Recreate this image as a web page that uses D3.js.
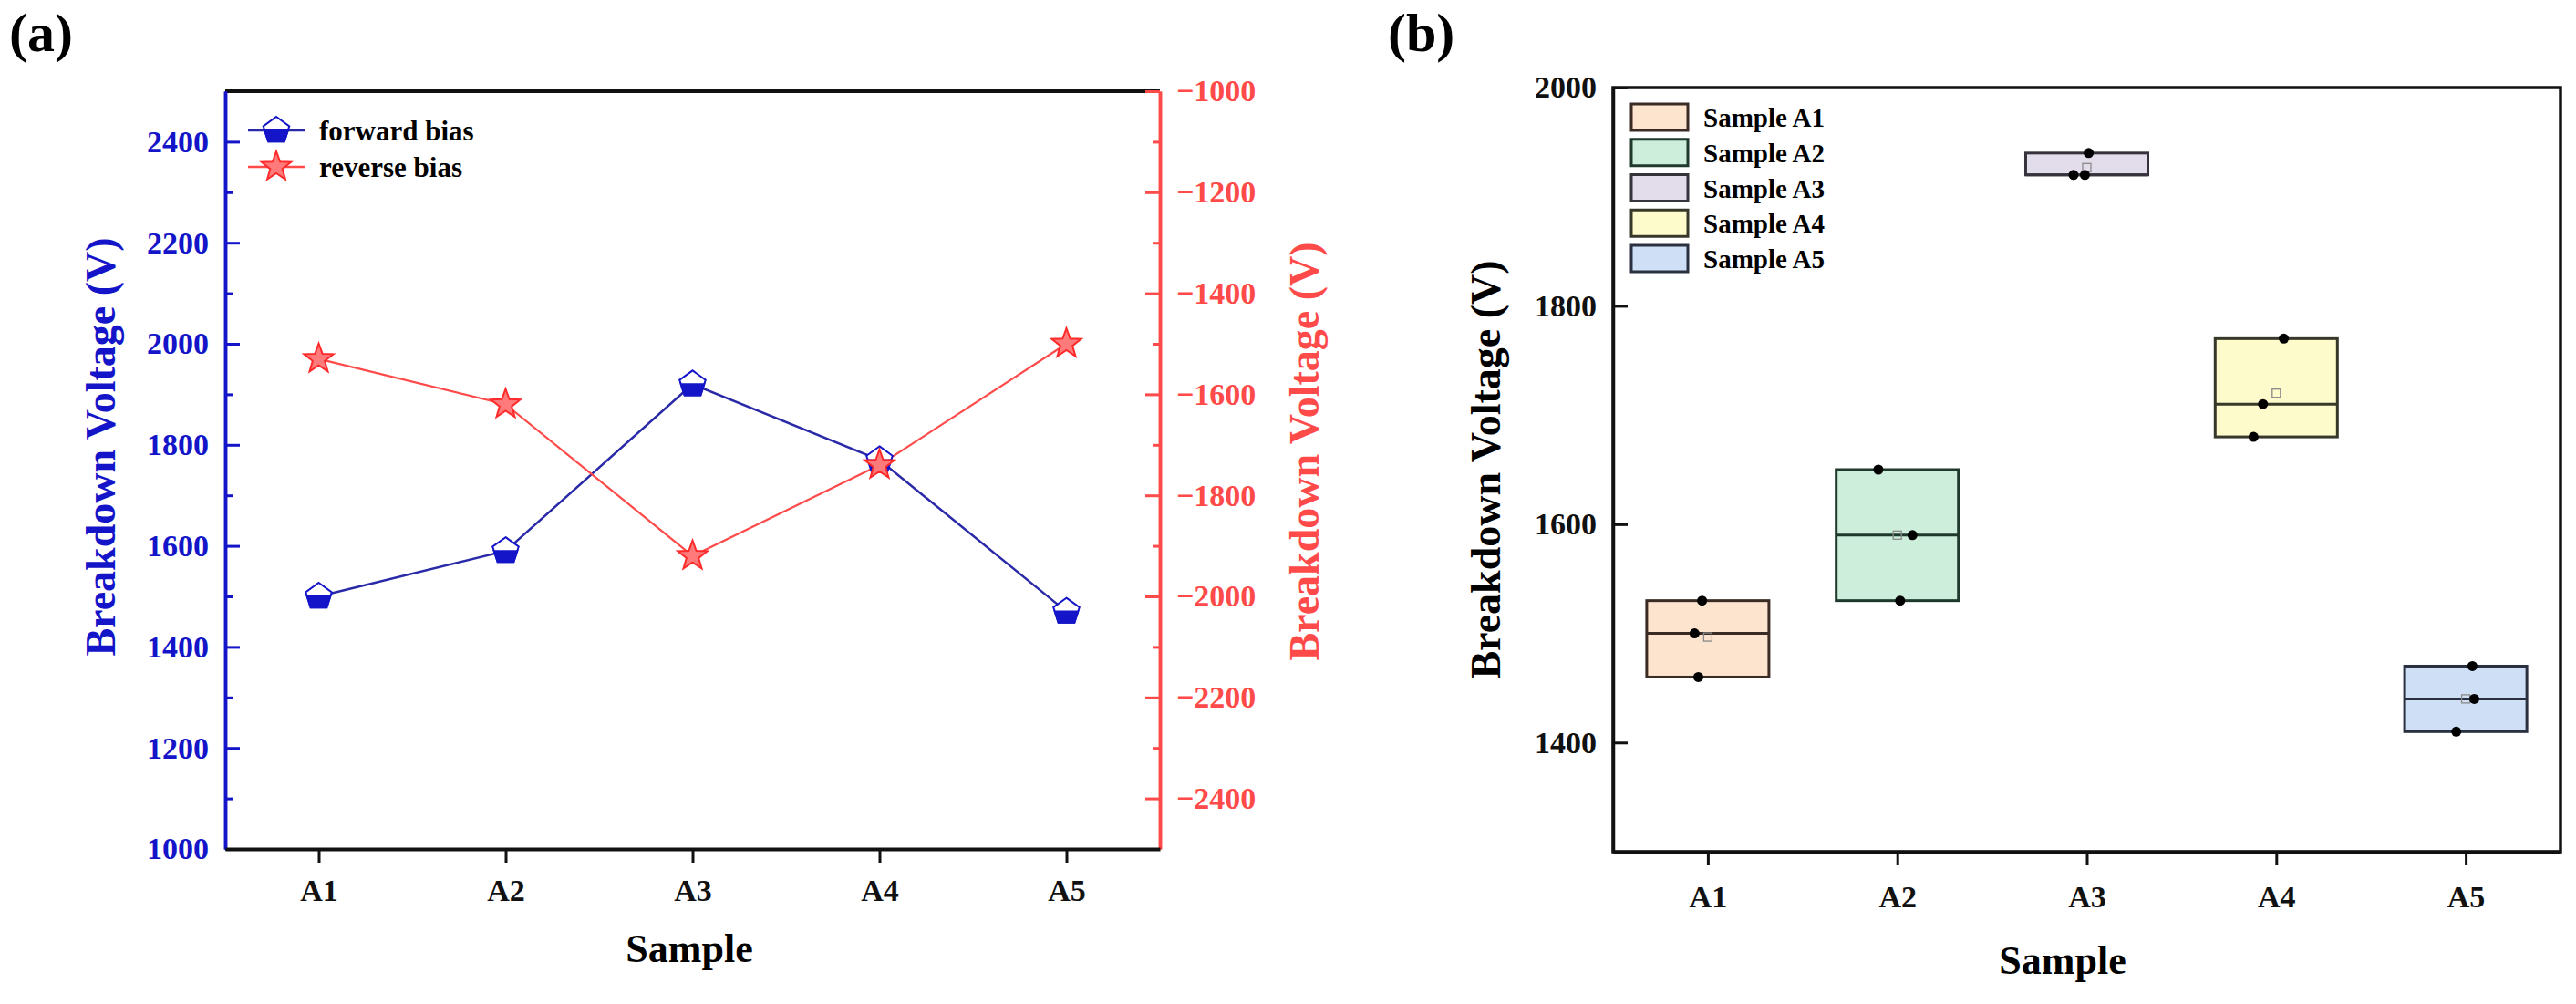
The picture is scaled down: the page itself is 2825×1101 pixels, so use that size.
<!DOCTYPE html>
<html>
<head>
<meta charset="utf-8">
<script src="https://cdn.jsdelivr.net/npm/d3@7"></script>
<style>
  body { margin: 0; background: #fff; }
  svg { font-family: "Liberation Serif", "Times New Roman", serif; font-weight: bold; }
</style>
</head>
<body>
<script>
// sample names used on both x axes
var samples = ["A1", "A2", "A3", "A4", "A5"];

// panel (a): breakdown voltage of each sample
var forwardBias = [1500, 1590, 1920, 1770, 1470];
var reverseBias = [-1530, -1620, -1920, -1740, -1500];
var leftTicks = [1000, 1200, 1400, 1600, 1800, 2000, 2200, 2400];
var rightTicks = [-2400, -2200, -2000, -1800, -1600, -1400, -1200, -1000];

// panel (b): the three measurements of each sample
var measurements = [
  [1530, 1500, 1460],
  [1650, 1590, 1530],
  [1940, 1920, 1920],
  [1770, 1710, 1680],
  [1470, 1440, 1410]
];
// sideways scatter of the dots (in sample units)
var jitter = [
  [-0.03, -0.07, -0.05],
  [-0.10, 0.08, 0.015],
  [0.01, -0.07, -0.01],
  [0.04, -0.07, -0.12],
  [0.035, 0.045, -0.05]
];
var boxTicks = [1400, 1600, 1800, 2000];
var boxLegend = ["Sample A1", "Sample A2", "Sample A3", "Sample A4", "Sample A5"];
var boxFills = ["#fde4cf", "#cdeedb", "#e3dcea", "#fdfbcb", "#cfe0f6"];
var boxStrokes = ["#3a2c24", "#1f3a2c", "#36333c", "#38382a", "#2a3040"];

var BLUE = "#1414c8", LINEBLUE = "#2a2aa8", RED = "#ff4a4a";
var FONT = "Liberation Serif, Times New Roman, serif";

// plain numbers, with a real minus sign
var numFormat = function(d){ return String(d).replace("-", "\u2212"); };

var svg = d3.select("body").append("svg")
            .attr("width", 2825)
            .attr("height", 1101);

// styles an axis group after d3 drew it
const styleAxis = function(g, colour, size){
  g.attr("font-family", FONT).attr("font-size", size).attr("font-weight", "bold");
  g.select(".domain").attr("stroke", colour).attr("stroke-width", 3.5);
  g.selectAll(".tick line").attr("stroke", colour).attr("stroke-width", 3);
  g.selectAll(".tick text").attr("fill", colour);
};

// pentagon with the apex up, whole outline and the lower half
const pentagon = function(r){
  var pts = [];
  for (var k = 0; k < 5; k++){
    var a = -Math.PI / 2 + k * 2 * Math.PI / 5;
    pts.push([r * Math.cos(a), r * Math.sin(a)]);
  }
  return pts;
};
const lowerHalf = function(r){
  var p = pentagon(r);
  var t = -p[1][1] / (p[2][1] - p[1][1]);
  var xm = p[1][0] + (p[2][0] - p[1][0]) * t;
  return [[xm, 0], p[2], p[3], [-xm, 0]];
};
const star = function(ro, ri){
  var pts = [];
  for (var k = 0; k < 10; k++){
    var a = -Math.PI / 2 + k * Math.PI / 5;
    var r = (k % 2 == 0) ? ro : ri;
    pts.push([r * Math.cos(a), r * Math.sin(a)]);
  }
  return pts;
};
const poly = function(pts){
  return "M" + pts.map(function(p){ return p[0].toFixed(2) + "," + p[1].toFixed(2); }).join("L") + "Z";
};

const drawForwardMarker = function(g){
  g.append("path").attr("d", poly(pentagon(15)))
   .attr("fill", "#fff").attr("stroke", BLUE).attr("stroke-width", 2);
  g.append("path").attr("d", poly(lowerHalf(15)))
   .attr("fill", BLUE).attr("stroke", BLUE).attr("stroke-width", 2);
};
const drawReverseMarker = function(g){
  g.append("path").attr("d", poly(star(17, 7)))
   .attr("fill", "#ff7a7a").attr("stroke", "#ff2a2a").attr("stroke-width", 2);
};

// ---------------- panel (a) ----------------
var pa = {left: 247, right: 1272, top: 100, bottom: 931};
var xA = d3.scaleLinear().domain([0.5, 5.5]).range([pa.left, pa.right]);
var yL = d3.scaleLinear().domain([1000, 2500]).range([pa.bottom, pa.top]);
var yR = d3.scaleLinear().domain([-2500, -1000]).range([pa.bottom, pa.top]);

svg.append("text")
   .attr("x", 10).attr("y", 56)
   .style("font-size", "60px")
   .text("(a)");

// top frame line
svg.append("line")
   .attr("x1", pa.left).attr("x2", pa.right)
   .attr("y1", pa.top).attr("y2", pa.top)
   .attr("stroke", "#111").attr("stroke-width", 4);

// minor ticks
var gLm = svg.append("g").attr("transform", "translate(" + pa.left + ",0)")
             .call(d3.axisLeft(yL).tickValues(d3.range(1100, 2500, 200))
                     .tickSizeInner(-8).tickSizeOuter(0).tickFormat(""));
styleAxis(gLm, BLUE, 34);
var gRm = svg.append("g").attr("transform", "translate(" + pa.right + ",0)")
             .call(d3.axisRight(yR).tickValues(d3.range(-2300, -1000, 200))
                     .tickSizeInner(-8).tickSizeOuter(0).tickFormat(""));
styleAxis(gRm, RED, 34);

var gL = svg.append("g").attr("transform", "translate(" + pa.left + ",0)")
            .call(d3.axisLeft(yL).tickValues(leftTicks).tickFormat(numFormat)
                    .tickSizeInner(-16).tickSizeOuter(0).tickPadding(18));
styleAxis(gL, BLUE, 34);

var gR = svg.append("g").attr("transform", "translate(" + pa.right + ",0)")
            .call(d3.axisRight(yR).tickValues(rightTicks).tickFormat(numFormat)
                    .tickSizeInner(-16).tickSizeOuter(0).tickPadding(18));
styleAxis(gR, RED, 34);

var gXA = svg.append("g").attr("transform", "translate(0," + pa.bottom + ")")
             .call(d3.axisBottom(xA).tickValues([1, 2, 3, 4, 5])
                     .tickFormat(function(d){ return samples[d - 1]; })
                     .tickSizeInner(15).tickSizeOuter(0).tickPadding(18));
styleAxis(gXA, "#111", 34);
gXA.select(".domain").attr("stroke-width", 4);

// axis titles
svg.append("text")
   .attr("transform", "translate(126,490) rotate(-90)")
   .attr("text-anchor", "middle")
   .attr("fill", BLUE)
   .style("font-size", "46px")
   .text("Breakdown Voltage (V)");
svg.append("text")
   .attr("transform", "translate(1446,495) rotate(-90)")
   .attr("text-anchor", "middle")
   .attr("fill", RED)
   .style("font-size", "46px")
   .text("Breakdown Voltage (V)");
svg.append("text")
   .attr("x", 756).attr("y", 1055)
   .attr("text-anchor", "middle")
   .style("font-size", "44px")
   .text("Sample");

// the two series
var lineA = d3.line()
              .x(function(d, i){ return xA(i + 1); });

svg.append("path")
   .attr("d", lineA.y(function(d){ return yL(d); })(forwardBias))
   .attr("fill", "none").attr("stroke", LINEBLUE).attr("stroke-width", 2.5);
svg.append("path")
   .attr("d", lineA.y(function(d){ return yR(d); })(reverseBias))
   .attr("fill", "none").attr("stroke", RED).attr("stroke-width", 2.2);

svg.selectAll(".fwd")
   .data(forwardBias).enter()
   .append("g")
   .attr("class", "fwd")
   .attr("transform", function(d, i){ return "translate(" + xA(i + 1) + "," + yL(d) + ")"; })
   .each(function(){ drawForwardMarker(d3.select(this)); });

svg.selectAll(".rev")
   .data(reverseBias).enter()
   .append("g")
   .attr("class", "rev")
   .attr("transform", function(d, i){ return "translate(" + xA(i + 1) + "," + yR(d) + ")"; })
   .each(function(){ drawReverseMarker(d3.select(this)); });

// legend of panel (a)
var legA = [["forward bias", LINEBLUE, drawForwardMarker, 143],
            ["reverse bias", RED, drawReverseMarker, 183]];
legA.forEach(function(l){
  svg.append("line")
     .attr("x1", 272).attr("x2", 334).attr("y1", l[3]).attr("y2", l[3])
     .attr("stroke", l[1]).attr("stroke-width", 2.5);
  var m = svg.append("g").attr("transform", "translate(303," + l[3] + ")");
  l[2](m);
  svg.append("text")
     .attr("x", 350).attr("y", l[3] + 11)
     .style("font-size", "31px")
     .text(l[0]);
});

// ---------------- panel (b) ----------------
var pb = {left: 1769, right: 2808, top: 96, bottom: 934};
var xB = d3.scaleLinear().domain([0.5, 5.5]).range([pb.left, pb.right]);
var yB = d3.scaleLinear().domain([1300, 2000]).range([pb.bottom, pb.top]);
var boxHalf = 0.3225;

svg.append("text")
   .attr("x", 1522).attr("y", 56)
   .style("font-size", "60px")
   .text("(b)");

var gYB = svg.append("g").attr("transform", "translate(" + pb.left + ",0)")
             .call(d3.axisLeft(yB).tickValues(boxTicks).tickFormat(numFormat)
                     .tickSizeInner(-16).tickSizeOuter(0).tickPadding(18));
styleAxis(gYB, "#111", 34);

var gXB = svg.append("g").attr("transform", "translate(0," + pb.bottom + ")")
             .call(d3.axisBottom(xB).tickValues([1, 2, 3, 4, 5])
                     .tickFormat(function(d){ return samples[d - 1]; })
                     .tickSizeInner(15).tickSizeOuter(0).tickPadding(22));
styleAxis(gXB, "#111", 34);

svg.append("rect")
   .attr("x", pb.left).attr("y", pb.top)
   .attr("width", pb.right - pb.left).attr("height", pb.bottom - pb.top)
   .attr("fill", "none").attr("stroke", "#111").attr("stroke-width", 3.5);

svg.append("text")
   .attr("transform", "translate(1645,515) rotate(-90)")
   .attr("text-anchor", "middle")
   .style("font-size", "46px")
   .text("Breakdown Voltage (V)");
svg.append("text")
   .attr("x", 2262).attr("y", 1068)
   .attr("text-anchor", "middle")
   .style("font-size", "44px")
   .text("Sample");

var boxes = svg.selectAll(".box")
               .data(measurements).enter()
               .append("g")
               .attr("class", "box");

boxes.append("rect")
     .attr("x", function(d, i){ return xB(i + 1 - boxHalf); })
     .attr("width", function(d, i){ return xB(i + 1 + boxHalf) - xB(i + 1 - boxHalf); })
     .attr("y", function(d){ return yB(d3.max(d)); })
     .attr("height", function(d){ return yB(d3.min(d)) - yB(d3.max(d)); })
     .attr("fill", function(d, i){ return boxFills[i]; })
     .attr("stroke", function(d, i){ return boxStrokes[i]; })
     .attr("stroke-width", 3);

boxes.append("line")
     .attr("x1", function(d, i){ return xB(i + 1 - boxHalf); })
     .attr("x2", function(d, i){ return xB(i + 1 + boxHalf); })
     .attr("y1", function(d){ return yB(d3.median(d)); })
     .attr("y2", function(d){ return yB(d3.median(d)); })
     .attr("stroke", function(d, i){ return boxStrokes[i]; })
     .attr("stroke-width", 3);

// mean marker
boxes.append("rect")
     .attr("x", function(d, i){ return xB(i + 1) - 4.5; })
     .attr("y", function(d){ return yB(d3.mean(d)) - 4.5; })
     .attr("width", 9).attr("height", 9)
     .attr("fill", "none").attr("stroke", "#8a8a8a").attr("stroke-width", 1.3);

boxes.each(function(d, i){
  d3.select(this).selectAll(".dot")
    .data(d).enter()
    .append("circle")
    .attr("class", "dot")
    .attr("cx", function(v, j){ return xB(i + 1 + jitter[i][j]); })
    .attr("cy", function(v){ return yB(v); })
    .attr("r", 5.5)
    .attr("fill", "#000");
});

// legend of panel (b)
var legB = svg.selectAll(".legB")
              .data(boxLegend).enter()
              .append("g")
              .attr("class", "legB")
              .attr("transform", function(d, i){ return "translate(1789," + (114 + i * 38.75) + ")"; });
legB.append("rect")
    .attr("width", 62).attr("height", 29)
    .attr("fill", function(d, i){ return boxFills[i]; })
    .attr("stroke", function(d, i){ return boxStrokes[i]; })
    .attr("stroke-width", 3);
legB.append("text")
    .attr("x", 79).attr("y", 25)
    .style("font-size", "29px")
    .text(function(d){ return d; });
</script>
</body>
</html>
